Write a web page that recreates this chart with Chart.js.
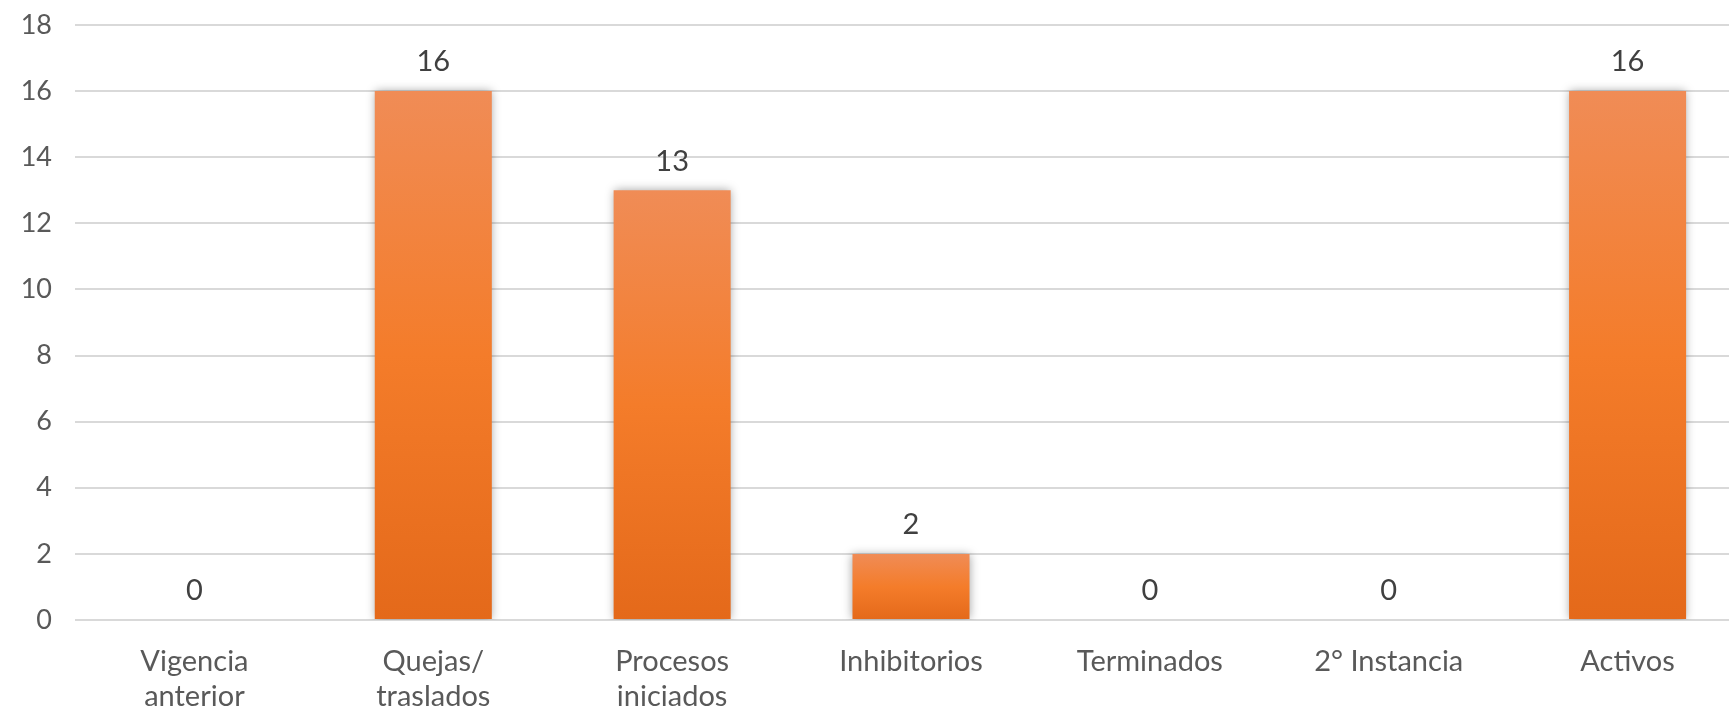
<!DOCTYPE html>
<html>
<head>
<meta charset="utf-8">
<script src="https://cdn.jsdelivr.net/npm/chart.js@4/dist/chart.umd.min.js"></script>
<style>
  html, body { margin: 0; padding: 0; background: #ffffff; overflow: hidden; }
  #wrap { width: 1747px; height: 715px; }
</style>
</head>
<body>
<div id="wrap"><canvas id="c" width="1747" height="715"></canvas></div>
<script>
const categories = [["Vigencia", "anterior"], ["Quejas/", "traslados"], ["Procesos", "iniciados"], "Inhibitorios", "Terminados", "2° Instancia", "Activos"];
const values = [0, 16, 13, 2, 0, 0, 16];
const yTicks = [0, 2, 4, 6, 8, 10, 12, 14, 16, 18];

const FONT = "Lato, 'Open Sans', sans-serif";

function barGradient(context) {
  const chart = context.chart;
  const y = chart.scales.y;
  if (!y) return '#F37B2A';
  const top = y.getPixelForValue(context.raw);
  const bottom = y.getPixelForValue(0);
  if (!isFinite(top) || !isFinite(bottom) || bottom - top < 1) return '#F08A52';
  const g = chart.ctx.createLinearGradient(0, top, 0, bottom);
  g.addColorStop(0, '#F08C56');
  g.addColorStop(0.5, '#F47C2A');
  g.addColorStop(1, '#E4691A');
  return g;
}

const shadowPlugin = {
  id: 'barShadow',
  beforeDatasetDraw(chart) {
    const ctx = chart.ctx;
    ctx.save();
    ctx.shadowColor = 'rgba(0,0,0,0.35)';
    ctx.shadowBlur = 9;
    ctx.shadowOffsetX = 0;
    ctx.shadowOffsetY = 0;
  },
  afterDatasetDraw(chart) {
    chart.ctx.restore();
  }
};

const labelPlugin = {
  id: 'valueLabels',
  afterDatasetsDraw(chart) {
    const ctx = chart.ctx;
    const meta = chart.getDatasetMeta(0);
    ctx.save();
    ctx.font = "29px " + FONT;
    ctx.fillStyle = '#404040';
    ctx.textAlign = 'center';
    ctx.textBaseline = 'middle';
    meta.data.forEach((bar, i) => {
      ctx.fillText(String(values[i]), bar.x, bar.y - 29);
    });
    ctx.restore();
  }
};

new Chart(document.getElementById('c'), {
  type: 'bar',
  data: {
    labels: categories,
    datasets: [{
      data: values,
      backgroundColor: barGradient,
      borderWidth: 0,
      categoryPercentage: 1.0,
      barPercentage: 0.49
    }]
  },
  options: {
    responsive: false,
    animation: false,
    devicePixelRatio: 1,
    layout: { padding: { top: 25, right: 0, left: 0, bottom: 0 } },
    plugins: {
      legend: { display: false },
      tooltip: { enabled: false }
    },
    scales: {
      x: {
        grid: { display: false, drawTicks: false },
        border: { display: false },
        ticks: {
          color: '#595959',
          font: { family: FONT, size: 29, lineHeight: 1.2 },
          padding: 24,
          maxRotation: 0,
          minRotation: 0,
          autoSkip: false
        },
        afterFit(scale) { scale.height = 95; scale.paddingLeft = 0; scale.paddingRight = 0; }
      },
      y: {
        min: 0,
        max: 18,
        afterBuildTicks(scale) { scale.ticks = yTicks.map(v => ({ value: v })); },
        grid: { color: '#D9D9D9', lineWidth: 2, drawTicks: false },
        border: { display: false },
        ticks: {
          color: '#595959',
          font: { family: FONT, size: 27 },
          padding: 23
        },
        afterFit(scale) { scale.width = 75; scale.paddingTop = 0; scale.paddingBottom = 0; }
      }
    }
  },
  plugins: [shadowPlugin, labelPlugin]
});
</script>
</body>
</html>
